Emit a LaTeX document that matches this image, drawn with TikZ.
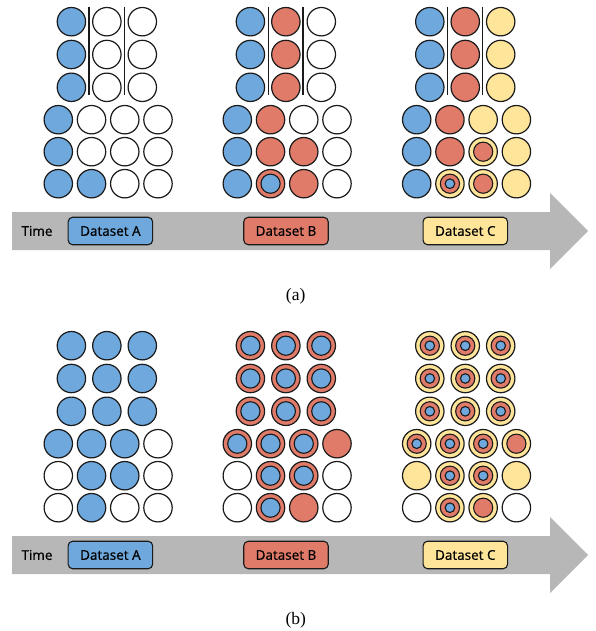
\documentclass[tikz,border=0pt]{standalone}
\usepackage{fontspec}
\setmainfont{Liberation Serif}
\newfontfamily\lblfont[FakeBold=0.6]{Open Sans}
\definecolor{cblue}{HTML}{6FA8DC}
\definecolor{cred}{HTML}{E07B6A}
\definecolor{cyel}{HTML}{FFE599}
\definecolor{cband}{HTML}{B7B7B7}
\definecolor{cline}{HTML}{1A1A1A}
\newcommand\drawgroup[5]{%
  \foreach \ty [count=\i from 0] in {#4} {
    \pgfmathtruncatemacro\cc{mod(\i,3)}
    \pgfmathtruncatemacro\rr{int(\i/3)}
    \node[circ,\ty] (#1t\i) at ({#2+71.4+35.45*\cc},{#3+21.7+32.8*\rr}) {};
  }
  \foreach \ty [count=\i from 0] in {#5} {
    \pgfmathtruncatemacro\cc{mod(\i,4)}
    \pgfmathtruncatemacro\rr{int(\i/4)}
    \node[circ,\ty] (#1b\i) at ({#2+58.3+33.23*\cc},{#3+119.7+32*\rr}) {};
  }
}
\begin{document}
\begin{tikzpicture}[x=1pt,y=-1pt,
  circ/.style={circle, draw=cline, line width=1.2pt, minimum size=28.4pt, inner sep=0pt},
  innerring/.style={draw=cline, line width=1.1pt},
  cw/.style={fill=white},
  cb/.style={fill=cblue},
  cr/.style={fill=cred},
  cy/.style={fill=cyel},
  crb/.style={fill=cred, path picture={\draw[innerring, fill=cblue] (path picture bounding box.center) circle (9.6pt);}},
  cyr/.style={fill=cyel, path picture={\draw[innerring, fill=cred] (path picture bounding box.center) circle (9.6pt);}},
  cyrb/.style={fill=cyel, path picture={\draw[innerring, fill=cred] (path picture bounding box.center) circle (9.6pt);
      \draw[innerring, fill=cblue] (path picture bounding box.center) circle (4.8pt);}},
  sep/.style={draw=cline, line width=1.2pt},
  band/.style={fill=cband, draw=none},
  dbox/.style={draw=cline, line width=1.1pt, rounded corners=4.5pt, minimum width=84.5pt, minimum height=27.5pt, inner sep=0pt, font=\lblfont\fontsize{13.5}{15}\selectfont},
  timelbl/.style={font=\lblfont\fontsize{13.5}{15}\selectfont, inner sep=0pt},
  captionlbl/.style={font=\fontsize{17.5}{19}\selectfont, inner sep=0pt}
]
\useasboundingbox (0,0) rectangle (595,631);

% ---------------- panel (a) ----------------
\drawgroup{aA}{0}{0}{cb,cw,cw,cb,cw,cw,cb,cw,cw}{cb,cw,cw,cw,cb,cw,cw,cw,cb,cb,cw,cw}
\drawgroup{aB}{179}{0}{cb,cr,cw,cb,cr,cw,cb,cr,cw}{cb,cr,cw,cw,cb,cr,cr,cw,cb,crb,cr,cw}
\drawgroup{aC}{358.4}{0}{cb,cr,cy,cb,cr,cy,cb,cr,cy}{cb,cr,cy,cy,cb,cr,cyr,cy,cb,cyrb,cyr,cy}

\foreach \lx in {89,124.3,268.3,303,447.7,482.3} {
  \draw[sep] (\lx,6.7) -- (\lx,95);
}

\path[band] (12,212) -- (550,212) -- (550,193) -- (588,231) -- (550,269) -- (550,250) -- (12,250) -- cycle;
\node[timelbl] (timeA) at (37,231) {Time};
\node[dbox, fill=cblue] (dsAa) at (110.4,231) {Dataset A};
\node[dbox, fill=cred] (dsBa) at (286,231) {Dataset B};
\node[dbox, fill=cyel] (dsCa) at (465.3,231) {Dataset C};
\node[captionlbl] (capa) at (295.7,296) {(a)};

% ---------------- panel (b) ----------------
\drawgroup{bA}{0}{324}{cb,cb,cb,cb,cb,cb,cb,cb,cb}{cb,cb,cb,cw,cw,cb,cb,cw,cw,cb,cw,cw}
\drawgroup{bB}{179}{324}{crb,crb,crb,crb,crb,crb,crb,crb,crb}{crb,crb,crb,cr,cw,crb,crb,cw,cw,crb,cr,cw}
\drawgroup{bC}{358.4}{324}{cyrb,cyrb,cyrb,cyrb,cyrb,cyrb,cyrb,cyrb,cyrb}{cyrb,cyrb,cyrb,cyr,cy,cyrb,cyrb,cy,cw,cyrb,cyr,cw}

\path[band] (12,536) -- (550,536) -- (550,517) -- (588,555) -- (550,593) -- (550,574) -- (12,574) -- cycle;
\node[timelbl] (timeB) at (37,555) {Time};
\node[dbox, fill=cblue] (dsAb) at (110.4,555) {Dataset A};
\node[dbox, fill=cred] (dsBb) at (286,555) {Dataset B};
\node[dbox, fill=cyel] (dsCb) at (465.3,555) {Dataset C};
\node[captionlbl] (capb) at (295.7,620) {(b)};
\end{tikzpicture}
\end{document}
